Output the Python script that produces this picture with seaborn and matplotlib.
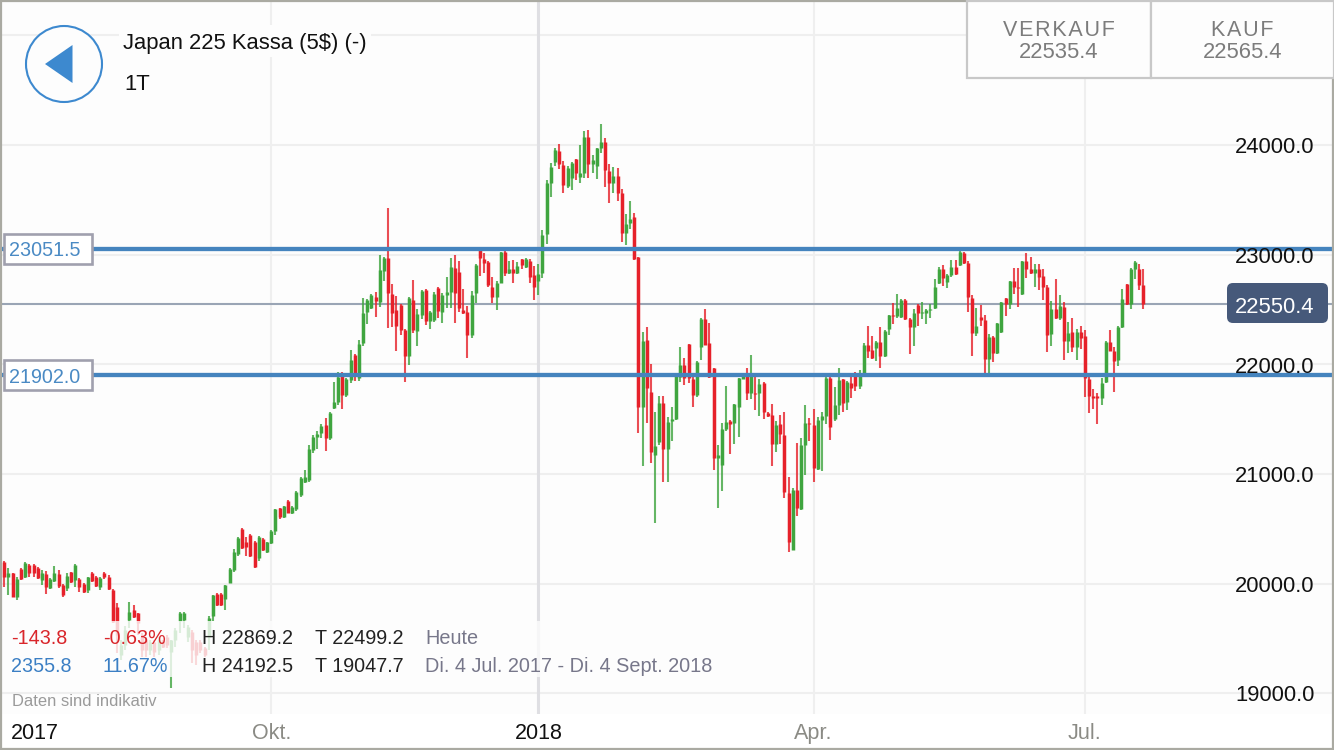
import numpy as np
import pandas as pd
import matplotlib
matplotlib.use('Agg')
import matplotlib.pyplot as plt
import matplotlib.transforms as mtransforms
from matplotlib.patches import Rectangle, Circle, Polygon, FancyBboxPatch
import seaborn as sns

# ---------------------------------------------------------
# data (daily candles, Jul 2017 - Jul 2018)
# ---------------------------------------------------------
open_px = [
    20197, 20060, 20096, 19877, 20133, 20060, 20169, 20169, 20142, 20032,
    20087, 19959, 20023, 20087, 19987, 19959, 20105, 20032, 20042, 19996,
    19941, 20096, 20060, 19969, 20096, 20060, 19941, 19786, 19349, 19440,
    19668, 19759, 19731, 19513, 19485, 19394, 19467, 19394, 19476, 19513,
    19376, 19485, 19659, 19668, 19513, 19558, 19467, 19467, 19412, 19513,
    19704, 19905, 19905, 19859, 20005, 20124, 20270, 20498, 20379, 20443,
    20379, 20233, 20406, 20288, 20370, 20479, 20689, 20607, 20753, 20643,
    20680, 20808, 20926, 20944, 21218, 21337, 21373, 21446, 21327, 21601,
    21656, 21920, 21720, 21856, 22084, 21875, 22194, 22477, 22513, 22613,
    22568, 22851, 22969, 22641, 22495, 22540, 22312, 22075, 22586, 22303,
    22449, 22677, 22394, 22404, 22695, 22477, 22632, 22659, 22878, 22841,
    22495, 22477, 22267, 22650, 23042, 22960, 22933, 22705, 22613, 22741,
    23024, 22832, 22869, 22832, 22960, 22887, 22942, 22814, 22759, 22832,
    23188, 23653, 23845, 23945, 23817, 23626, 23698, 23872, 23708, 23744,
    24073, 23826, 23808, 23972, 24027, 23763, 23653, 23717, 23562, 23197,
    23288, 23343, 22978, 21610, 22221, 21747, 21172, 21291, 21647, 21227,
    21482, 21501, 21884, 21993, 22185, 21865, 21720, 22157, 22413, 22194,
    21966, 21145, 21081, 21409, 21482, 21464, 21610, 21865, 21920, 21738,
    21738, 21738, 21829, 21555, 21537, 21273, 21455, 21355, 20826, 20306,
    20853, 20680, 21264, 21464, 21446, 21045, 21492, 21528, 21875, 21501,
    21628, 21865, 21656, 21829, 21920, 21802, 21920, 22176, 22130, 22148,
    22203, 22075, 22322, 22449, 22440, 22431, 22586, 22413, 22340, 22540,
    22467, 22467, 22495, 22513, 22741, 22869, 22750, 22814, 22887, 22905,
    23015, 22924, 22604, 22285, 22431, 22404, 22048, 22249, 22103, 22294,
    22604, 22550, 22759, 22705, 22641, 22942, 22869, 22832, 22869, 22805,
    22705, 22276, 22504, 22422, 22522, 22212, 22294, 22157, 22294, 22258,
    21865, 21710, 21710, 21692, 21838, 22203, 22121, 22039, 22340, 22732,
    22550, 22869, 22869, 22723,
]
close_px = [
    20060, 20096, 19877, 20042, 20042, 20188, 20096, 20096, 20051, 20096,
    19969, 20042, 20096, 19978, 19896, 20069, 20014, 20169, 19969, 19923,
    20060, 20023, 19978, 20051, 20060, 19950, 19650, 19531, 19440, 19576,
    19741, 19695, 19640, 19394, 19394, 19467, 19376, 19485, 19422, 19440,
    19485, 19576, 19731, 19731, 19604, 19394, 19349, 19394, 19349, 19686,
    19896, 19804, 19804, 19987, 20133, 20288, 20416, 20324, 20333, 20251,
    20151, 20425, 20306, 20379, 20479, 20680, 20607, 20707, 20643, 20698,
    20835, 20963, 20972, 21227, 21337, 21364, 21437, 21327, 21555, 21656,
    21884, 21720, 21865, 22039, 21920, 22185, 22467, 22586, 22632, 22577,
    22860, 22969, 22650, 22467, 22349, 22312, 22075, 22604, 22312, 22458,
    22668, 22394, 22477, 22641, 22486, 22632, 22659, 22887, 22650, 22513,
    22467, 22267, 22632, 22905, 22969, 22924, 22723, 22613, 22741, 23024,
    22832, 22869, 22832, 22896, 22905, 22960, 22796, 22705, 22823, 23179,
    23653, 23799, 23954, 23826, 23635, 23790, 23836, 23744, 23744, 24073,
    23826, 23863, 23972, 24027, 23772, 23653, 23717, 23562, 23197, 23279,
    23325, 22960, 21610, 22212, 21783, 21200, 21254, 21647, 21227, 21473,
    21501, 21902, 21993, 21875, 21875, 21720, 22021, 22413, 22176, 21884,
    21145, 21172, 21409, 21473, 21455, 21637, 21875, 21911, 21738, 21902,
    21729, 21820, 21565, 21528, 21273, 21446, 21364, 20835, 20379, 20853,
    20689, 21264, 21464, 21455, 21054, 21492, 21528, 21875, 21428, 21628,
    21856, 21647, 21838, 21783, 21802, 21893, 22176, 22121, 22057, 22203,
    22075, 22303, 22449, 22440, 22513, 22586, 22413, 22340, 22467, 22467,
    22477, 22495, 22504, 22705, 22869, 22787, 22814, 22887, 22823, 23024,
    22924, 22613, 22285, 22349, 22404, 22048, 22249, 22103, 22376, 22568,
    22550, 22759, 22705, 22695, 22942, 22869, 22832, 22869, 22796, 22705,
    22267, 22504, 22422, 22531, 22212, 22285, 22157, 22294, 22240, 21875,
    21710, 21692, 21692, 21829, 22203, 22121, 22030, 22340, 22595, 22550,
    22869, 22933, 22723, 22550,
]
high_px = [
    20206, 20142, 20096, 20060, 20142, 20197, 20178, 20178, 20151, 20124,
    20115, 20051, 20160, 20124, 19996, 20096, 20105, 20178, 20051, 20005,
    20060, 20105, 20069, 20060, 20105, 20078, 19950, 19823, 19485, 19613,
    19832, 19804, 19731, 19549, 19513, 19485, 19485, 19513, 19485, 19531,
    19485, 19595, 19741, 19741, 19622, 19576, 19485, 19485, 19422, 19704,
    19896, 19914, 19914, 19987, 20142, 20315, 20425, 20507, 20425, 20452,
    20388, 20434, 20416, 20379, 20488, 20680, 20689, 20707, 20762, 20707,
    20844, 20972, 21036, 21264, 21355, 21391, 21455, 21510, 21565, 21838,
    21929, 21929, 21875, 22130, 22094, 22221, 22604, 22595, 22641, 22659,
    22996, 22978, 23425, 22732, 22623, 22550, 22322, 22613, 22769, 22504,
    22677, 22686, 22486, 22659, 22705, 22650, 22796, 22969, 22996, 22942,
    22686, 22531, 22668, 22914, 23060, 23015, 22942, 22796, 22759, 23024,
    23033, 22942, 22951, 22933, 22960, 22969, 22960, 22896, 22914, 23225,
    23680, 23836, 23972, 24009, 23854, 23808, 23845, 23872, 24000, 24128,
    24137, 23909, 23972, 24192, 24064, 23826, 23799, 23790, 23598, 23371,
    23489, 23380, 22978, 22294, 22340, 22002, 21565, 21710, 21710, 21519,
    21610, 21920, 22157, 22057, 22185, 21884, 22030, 22422, 22504, 22376,
    21966, 21264, 21464, 21802, 21492, 21637, 21875, 21920, 21966, 22084,
    21884, 21865, 21838, 21565, 21637, 21482, 21537, 21565, 20972, 20871,
    21282, 21327, 21628, 21510, 21592, 21519, 21565, 21911, 21884, 21793,
    21966, 21865, 21847, 21884, 21929, 21948, 22194, 22349, 22258, 22212,
    22340, 22312, 22449, 22559, 22641, 22595, 22595, 22422, 22504, 22550,
    22568, 22504, 22550, 22778, 22887, 22905, 22823, 22951, 22951, 23042,
    23024, 22942, 22632, 22513, 22540, 22449, 22276, 22258, 22376, 22568,
    22604, 22759, 22878, 22878, 22942, 23015, 22978, 22914, 22914, 22869,
    22723, 22577, 22778, 22632, 22568, 22385, 22422, 22322, 22349, 22312,
    21920, 21774, 21738, 21875, 22212, 22312, 22157, 22349, 22686, 22732,
    22878, 22942, 22914, 22869,
]
low_px = [
    19969, 19896, 19877, 19850, 20032, 20051, 20060, 20060, 20042, 19987,
    19905, 19950, 20014, 19959, 19877, 19932, 20005, 19969, 19923, 19914,
    19914, 20014, 19969, 19941, 20042, 19941, 19640, 19367, 19303, 19394,
    19595, 19686, 19531, 19330, 19330, 19349, 19330, 19349, 19412, 19412,
    19048, 19422, 19549, 19595, 19467, 19276, 19257, 19367, 19330, 19394,
    19659, 19795, 19795, 19759, 20005, 20105, 20251, 20315, 20251, 20242,
    20142, 20206, 20297, 20279, 20361, 20443, 20589, 20598, 20643, 20634,
    20662, 20789, 20917, 20926, 21191, 21227, 21327, 21209, 21309, 21592,
    21628, 21592, 21701, 21829, 21847, 21847, 22167, 22367, 22504, 22431,
    22522, 22759, 22331, 22340, 22121, 22267, 21838, 21993, 22285, 22167,
    22413, 22358, 22322, 22385, 22422, 22376, 22513, 22513, 22376, 22477,
    22458, 22057, 22240, 22559, 22805, 22832, 22705, 22559, 22495, 22741,
    22805, 22823, 22741, 22823, 22869, 22878, 22741, 22586, 22632, 22787,
    23097, 23525, 23808, 23781, 23562, 23607, 23589, 23680, 23653, 23698,
    23698, 23744, 23689, 23927, 23617, 23471, 23562, 23489, 23115, 23088,
    23234, 22951, 21373, 21072, 21464, 21099, 20552, 21264, 20926, 20926,
    21300, 21492, 21838, 21811, 21829, 21610, 21701, 22039, 22176, 21875,
    21036, 20689, 20844, 21391, 21181, 21273, 21337, 21865, 21674, 21683,
    21583, 21528, 21501, 21519, 21072, 21200, 21273, 20780, 20288, 20306,
    20616, 20671, 20990, 21300, 20926, 21036, 21027, 21455, 21309, 21482,
    21537, 21565, 21583, 21692, 21756, 21774, 21893, 22057, 22048, 22030,
    21966, 22066, 22267, 22367, 22422, 22422, 22404, 22094, 22167, 22349,
    22413, 22367, 22422, 22504, 22732, 22714, 22695, 22796, 22814, 22896,
    22914, 22477, 22075, 22258, 22349, 21911, 21920, 22021, 22094, 22285,
    22440, 22504, 22641, 22522, 22632, 22787, 22823, 22705, 22677, 22586,
    22112, 22167, 22413, 22404, 22039, 22103, 22112, 22039, 22139, 21701,
    21555, 21592, 21455, 21628, 21829, 22121, 21747, 21984, 22331, 22540,
    22504, 22778, 22677, 22504,
]

price_ticks = [19000, 20000, 21000, 22000, 23000, 24000, 25000]
price_labels = ['19000.0', '20000.0', '21000.0', '22000.0', '23000.0', '24000.0']
month_pos = [64, 128, 194, 259]
month_labels = ['Okt.', '2018', 'Apr.', 'Jul.']
levels = [23051.5, 21902.0]
last_price = 22550.4

df = pd.DataFrame({'day': np.arange(len(open_px)), 'open': open_px, 'close': close_px,
                   'high': high_px, 'low': low_px})
df['dir'] = np.where(df['close'] >= df['open'], 'up', 'down')
wicks = df.melt(id_vars=['day', 'dir'], value_vars=['high', 'low'], value_name='price')
bodies = df.melt(id_vars=['day', 'dir'], value_vars=['open', 'close'], value_name='price')

# ---------------------------------------------------------
# theme
# ---------------------------------------------------------
sns.set_theme(style='white')
plt.rcParams['font.family'] = ['Liberation Sans', 'DejaVu Sans']

BG = '#fdfdfd'
candle_colors = {'up': '#3fa53f', 'down': '#e6212a'}

fig = plt.figure(figsize=(13.34, 7.5), dpi=100, facecolor=BG)
ax = fig.add_axes([0, 0, 1, 1], facecolor=BG)

# candles
sns.lineplot(data=wicks, x='day', y='price', units='day', estimator=None, hue='dir',
             palette=candle_colors, linewidth=1.5, alpha=0.8, legend=False, ax=ax,
             solid_capstyle='butt', zorder=3)
sns.lineplot(data=bodies, x='day', y='price', units='day', estimator=None, hue='dir',
             palette=candle_colors, linewidth=2.5, legend=False, ax=ax,
             solid_capstyle='butt', zorder=3)

# px -> data: x = 4.3 + 4.172 * day, y = (25322.4 - price) / 9.12
ax.set_xlim(-4.3 / 4.172, (1334 - 4.3) / 4.172)
ax.set_ylim(25322.4 - 750 * 9.12, 25322.4)
ax.set_xlabel('')
ax.set_ylabel('')
ax.set_xticks(month_pos)
ax.set_yticks(price_ticks)
ax.tick_params(length=0, labelbottom=False, labelleft=False)
ax.set_axisbelow(True)
ax.grid(True, color='#efefef', linewidth=1.5)
for s in ax.spines.values():
    s.set_visible(False)
ax.axvline(128, color='#dfdfe3', linewidth=2.2, zorder=0.8)

# level lines
for lv in levels:
    ax.axhline(lv, color='#4584be', linewidth=3.1, zorder=4)
ax.axhline(last_price, color='#9aa5b5', linewidth=1.5, zorder=2.5)

# ---------------------------------------------------------
# overlay in pixels for the app chrome
# ---------------------------------------------------------
ui = fig.add_axes([0, 0, 1, 1], facecolor='none')
ui.set_xlim(0, 1334)
ui.set_ylim(750, 0)
ui.axis('off')
px_y = mtransforms.blended_transform_factory(ui.transData, ax.transData)

# bottom band + frame
ui.add_patch(Rectangle((0, 714), 1334, 36, fc='white', ec='none', zorder=1))
ui.add_patch(Rectangle((1, 1), 1332, 748, fc='none', ec='#aaaaa2', lw=1.6, zorder=8))

# faded panel behind the stats
ui.add_patch(Rectangle((0, 621), 720, 56, fc=BG, ec='none', alpha=0.8, zorder=1))

# axis labels (va=center sits ~3px high, hence the nudge)
for t, lab in zip(price_ticks, price_labels):
    ui.text(1235, t - 25, lab, transform=px_y, fontsize=15.8, color='#111111', va='center', ha='left', zorder=5)
for m, lab in zip(month_pos, month_labels):
    col = '#111111' if lab == '2018' else '#8b8b85'
    ui.text(4.3 + 4.172 * m, 739, lab, fontsize=15.5, color=col, ha='center', va='baseline', zorder=5)
ui.text(11, 739, '2017', fontsize=15.5, color='#111111', ha='left', va='baseline', zorder=5)

# level tags
ui.add_patch(Rectangle((3.5, 234), 88, 30, fc='white', ec='#a0a0ae', lw=1.9, zorder=6))
ui.add_patch(Rectangle((3.5, 360), 88, 30, fc='white', ec='#a0a0ae', lw=1.9, zorder=6))
for lv in levels:
    ui.text(9, lv - 18, f'{lv:.1f}', transform=px_y, fontsize=14.2, color='#4a8ac4', va='center', ha='left', zorder=7)

# last price tag
ui.add_patch(FancyBboxPatch((1230, 286), 95, 34, boxstyle='round,pad=3,rounding_size=6',
                            fc='#46597a', ec='none', zorder=6))
ui.text(1235, last_price - 30, f'{last_price:.1f}', transform=px_y, fontsize=15.8, color='white',
        va='center', ha='left', zorder=7)

# title block + back button
ui.add_patch(Rectangle((119, 25), 252, 32, fc=BG, ec='none', zorder=1))
ui.text(123, 44, 'Japan 225 Kassa (5$) (-)', fontsize=15.8, color='#111111', va='center', zorder=5)
ui.text(124, 84, '1T', fontsize=15.8, color='#111111', va='center', zorder=5)
ui.add_patch(Circle((64, 64), 38, fc=BG, ec='#3d89cf', lw=1.5, zorder=5))
ui.add_patch(Polygon([(45, 64), (72.5, 45), (72.5, 83)], closed=True, fc='#3d89cf', ec='none', zorder=6))

# bid/ask boxes
for x0, w, head, val in [(967, 184, 'V\u200aE\u200aR\u200aK\u200aA\u200aU\u200aF', '22535.4'),
                         (1151, 183, 'K\u200aA\u200aU\u200aF', '22565.4')]:
    ui.add_patch(Rectangle((x0, 1), w, 77, fc=BG, ec='#c8c8c8', lw=1.6, zorder=9))
    ui.text(x0 + w / 2, 30, head, fontsize=15.5, color='#7c7c7c', ha='center', va='center', zorder=10)
    ui.text(x0 + w / 2, 52, val, fontsize=15.8, color='#7c7c7c', ha='center', va='center', zorder=10)

# stats rows
red, blue, dark, grey = '#d9262b', '#3b7fc4', '#222222', '#77778a'
rows = [(639, '-143.8', '-0.63%', 'H 22869.2', 'T 22499.2', 'Heute', red),
        (667, '2355.8', '11.67%', 'H 24192.5', 'T 19047.7', 'Di. 4 Jul. 2017 - Di. 4 Sept. 2018', blue)]
for y, a, b, h, t, note, col in rows:
    ui.text(11, y, a, fontsize=14.2, color=col, va='center', zorder=5)
    ui.text(103, y, b, fontsize=14.2, color=col, va='center', zorder=5)
    ui.text(202, y, h, fontsize=14.2, color=dark, va='center', zorder=5)
    ui.text(315, y, t, fontsize=14.2, color=dark, va='center', zorder=5)
    ui.text(425, y, note, fontsize=14.3, color=grey, va='center', zorder=5)
ui.text(12, 701, 'Daten sind indikativ', fontsize=11.9, color='#9a9a9a', va='center', zorder=5)

fig.savefig('out.png', dpi=100, facecolor=BG)
